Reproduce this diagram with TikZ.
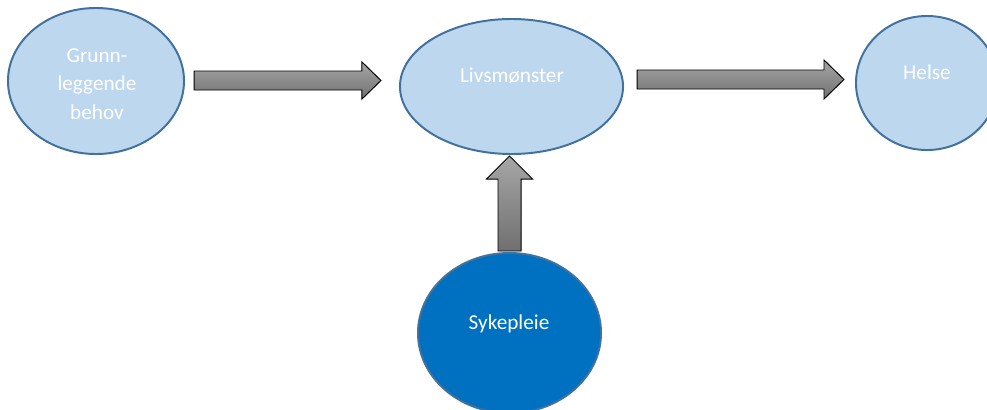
\documentclass[tikz,border=0pt]{standalone}
\usepackage{fontspec}
\setmainfont{Carlito}
\usetikzlibrary{shapes.geometric,calc}
\definecolor{paleblue}{RGB}{189,215,238}
\definecolor{rimblue}{RGB}{65,113,156}
\definecolor{deepblue}{RGB}{0,112,192}
\definecolor{arrowlight}{RGB}{166,166,166}
\definecolor{arrowdark}{RGB}{112,112,112}

% fat arrow: from, to, body half width, head half width, head length
\newcommand{\fatarrow}[5]{%
  \coordinate (headbase) at ($(#2)!#5!(#1)$);
  \draw[blockarrow] ($(#1)!#3!90:(#2)$) -- ($(headbase)!#3!90:(#2)$) -- ($(headbase)!#4!90:(#2)$) -- (#2)
    -- ($(headbase)!#4!-90:(#2)$) -- ($(headbase)!#3!-90:(#2)$) -- ($(#1)!#3!-90:(#2)$) -- cycle;
}

\begin{document}
\begin{tikzpicture}[x=0.025cm, y=-0.025cm,
    bubble/.style={ellipse, draw=rimblue, line width=1.4pt, fill=paleblue, inner sep=0pt},
    bubbletext/.style={text=white, font=\fontsize{15.1}{20.2}\selectfont, inner sep=0pt},
    blockarrow/.style={draw=black, line width=0.7pt, top color=arrowlight, bottom color=arrowdark}]
    \clip (0,0) rectangle (987,409);

    % Ellipses
    \node[bubble, minimum width=4.4cm, minimum height=3.65cm] (grunn) at (96,81) {};
    \node[bubble, minimum width=5.575cm, minimum height=3.375cm] (liv) at (511.5,86.5) {};
    \node[bubble, minimum width=3.55cm, minimum height=3.35cm] (helse) at (927,83) {};
    \node[bubble, fill=deepblue, minimum width=4.575cm, minimum height=4cm] (syk) at (509.5,333) {};

    % Texts
    \node[bubbletext, align=center] (grunntxt) at (97,84) {Grunn-\\leggende\\behov};
    \node[bubbletext, anchor=base] (livtxt) at (512,82) {Livsmønster};
    \node[bubbletext, anchor=base] (helsetxt) at (927,79) {Helse};
    \node[bubbletext, anchor=base] (syktxt) at (509,329) {Sykepleie};

    % Arrow ends
    \coordinate (a1s) at ($(grunn.east)+(9,-0.5)$);
    \coordinate (a1e) at ($(liv.west)+(-18,-6)$);
    \coordinate (a2s) at ($(liv.east)+(13,-7)$);
    \coordinate (a2e) at ($(helse.west)+(-11,-3.5)$);
    \coordinate (a3s) at ($(syk.north)+(0,-1)$);
    \coordinate (a3e) at ($(liv.south)+(-2,1)$);

    % Arrows
    \fatarrow{a1s}{a1e}{0.2375cm}{0.4625cm}{0.475cm}
    \fatarrow{a2s}{a2e}{0.2375cm}{0.4875cm}{0.5cm}
    \fatarrow{a3s}{a3e}{0.2875cm}{0.575cm}{0.575cm}
\end{tikzpicture}
\end{document}
